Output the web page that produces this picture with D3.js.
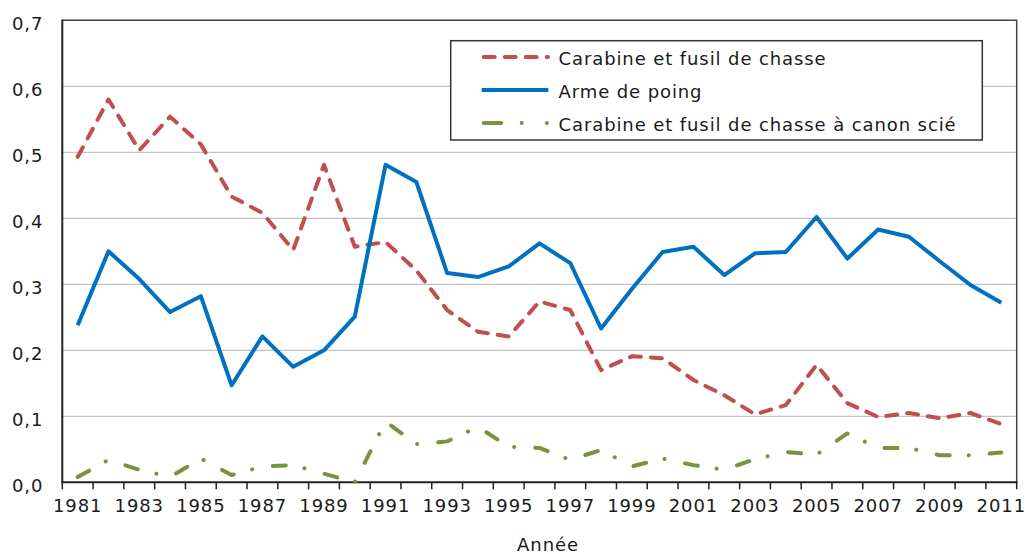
<!DOCTYPE html>
<html>
<head>
<meta charset="utf-8">
<script src="https://cdn.jsdelivr.net/npm/d3@7"></script>
<style>
  html, body { margin: 0; padding: 0; background: #fff; }
  svg { display: block; }
  text { font-family: "DejaVu Sans", Verdana, sans-serif; font-size: 18px; letter-spacing: 0.9px; fill: #1a1a1a; }
</style>
</head>
<body>
<svg id="chart" width="1026" height="554"></svg>
<script>
// ---- Data ----
const years = d3.range(1981, 2012);
const seriesNames = [
  "Carabine et fusil de chasse",
  "Arme de poing",
  "Carabine et fusil de chasse à canon scié"
];
const carabine = [0.493, 0.580, 0.503, 0.554, 0.512, 0.433, 0.408, 0.352, 0.481, 0.357,
                  0.364, 0.321, 0.261, 0.228, 0.221, 0.274, 0.261, 0.170, 0.191, 0.188,
                  0.155, 0.132, 0.103, 0.117, 0.178, 0.120, 0.099, 0.105, 0.097, 0.105, 0.088];
const armePoing = [0.238, 0.350, 0.308, 0.258, 0.282, 0.147, 0.221, 0.175, 0.200, 0.251,
                   0.481, 0.455, 0.317, 0.311, 0.327, 0.362, 0.332, 0.233, 0.293, 0.349,
                   0.357, 0.314, 0.347, 0.349, 0.402, 0.339, 0.383, 0.372, 0.335, 0.299, 0.272];
const canonScie = [0.008, 0.034, 0.019, 0.008, 0.036, 0.011, 0.024, 0.026, 0.013, 0.000,
                   0.092, 0.058, 0.062, 0.084, 0.054, 0.052, 0.034, 0.049, 0.024, 0.036,
                   0.026, 0.019, 0.035, 0.046, 0.042, 0.074, 0.052, 0.052, 0.041, 0.041, 0.045];
const yTicks = [0, 0.1, 0.2, 0.3, 0.4, 0.5, 0.6, 0.7];
const xLabelYears = years.filter(y => (y - 1981) % 2 === 0);
const xTitle = "Année";

// ---- Layout ----
const pL = 62.3, pR = 1016.7, pT = 20.3, pB = 482.3;

const svg = d3.select("#chart");

const x = d3.scaleBand().domain(years).range([pL, pR]).padding(0);
const cx = d => x(d) + x.bandwidth() / 2;
const y = d3.scaleLinear().domain([0, 0.7]).range([pB, pT]);

const fmt = d3.formatLocale({decimal: ",", thousands: " ", grouping: [3], currency: ["", ""]}).format(".1f");

// gridlines
svg.append("g")
  .selectAll("line")
  .data(yTicks.filter(t => t > 0 && t < 0.7))
  .join("line")
  .attr("x1", pL).attr("x2", pR)
  .attr("y1", d => y(d)).attr("y2", d => y(d))
  .attr("stroke", "#c4c4c4").attr("stroke-width", 1.2);

// top & right frame
svg.append("path")
  .attr("d", `M${pL},${pT}H${pR}V${pB}`)
  .attr("fill", "none").attr("stroke", "#444").attr("stroke-width", 1.5);

// Y axis labels
const yAxis = d3.axisLeft(y).tickValues(yTicks).tickFormat(fmt).tickSize(0).tickPadding(19);
const gy = svg.append("g").attr("transform", `translate(${pL},0)`).call(yAxis);
gy.select(".domain").remove();
gy.selectAll("text").attr("dy", "0.5em").style("font-size", "18px").attr("fill", "#1a1a1a");
gy.attr("font-family", null).attr("font-size", null);

// X axis labels
const xAxis = d3.axisBottom(x).tickValues(xLabelYears).tickSize(0).tickPadding(17);
const gx = svg.append("g").attr("transform", `translate(0,${pB})`).call(xAxis);
gx.select(".domain").remove();
gx.selectAll("text").attr("dy", "0.72em").style("font-size", "18px").attr("fill", "#1a1a1a");
gx.attr("font-family", null).attr("font-size", null);

// X tick marks at band boundaries
const boundaries = years.map(d => x(d)).concat([pR]);
svg.append("g").selectAll("line")
  .data(boundaries)
  .join("line")
  .attr("x1", d => d).attr("x2", d => d)
  .attr("y1", pB).attr("y2", pB + 7)
  .attr("stroke", "#222").attr("stroke-width", 1.5);

// axes lines
svg.append("line").attr("x1", pL).attr("x2", pL).attr("y1", pT - 0.7).attr("y2", pB)
  .attr("stroke", "#222").attr("stroke-width", 2);
svg.append("line").attr("x1", pL - 1).attr("x2", pR + 0.7).attr("y1", pB).attr("y2", pB)
  .attr("stroke", "#222").attr("stroke-width", 2);

// X title
svg.append("text").attr("x", 548).attr("y", 551).attr("text-anchor", "middle").text(xTitle);

// ---- Series ----
const styles = [
  {data: carabine, color: "#c0504d", dash: "11,10", legendDash: "11,10"},
  {data: armePoing, color: "#0070c0", dash: null, legendDash: null},
  {data: canonScie, color: "#77933c", dash: "13,19,0.1,21", legendDash: "17.6,20.4,0.1,25,0.1,100"}
];

const line = d3.line().x((d, i) => cx(years[i])).y(d => y(d));

styles.forEach(s => {
  svg.append("path")
    .datum(s.data)
    .attr("d", line)
    .attr("fill", "none")
    .attr("stroke", s.color)
    .attr("stroke-width", 4)
    .attr("stroke-linejoin", "round")
    .attr("stroke-linecap", s.dash ? "round" : "butt")
    .attr("stroke-dasharray", s.dash);
});

// ---- Legend ----
const lg = svg.append("g");
lg.append("rect")
  .attr("x", 450.7).attr("y", 40.7).attr("width", 531.6).attr("height", 99.3)
  .attr("fill", "#fff").attr("stroke", "#333").attr("stroke-width", 1.5);
const rowY = [57, 90, 123];
styles.forEach((s, i) => {
  lg.append("line")
    .attr("x1", s.dash ? 483.7 : 481.7).attr("x2", s.dash ? 548 : 548.3)
    .attr("y1", rowY[i]).attr("y2", rowY[i])
    .attr("stroke", s.color).attr("stroke-width", 4)
    .attr("stroke-linecap", s.dash ? "round" : "butt")
    .attr("stroke-dasharray", s.legendDash);
  lg.append("text")
    .attr("x", 558.5).attr("y", rowY[i] + 8)
    .text(seriesNames[i]);
});
</script>
</body>
</html>
